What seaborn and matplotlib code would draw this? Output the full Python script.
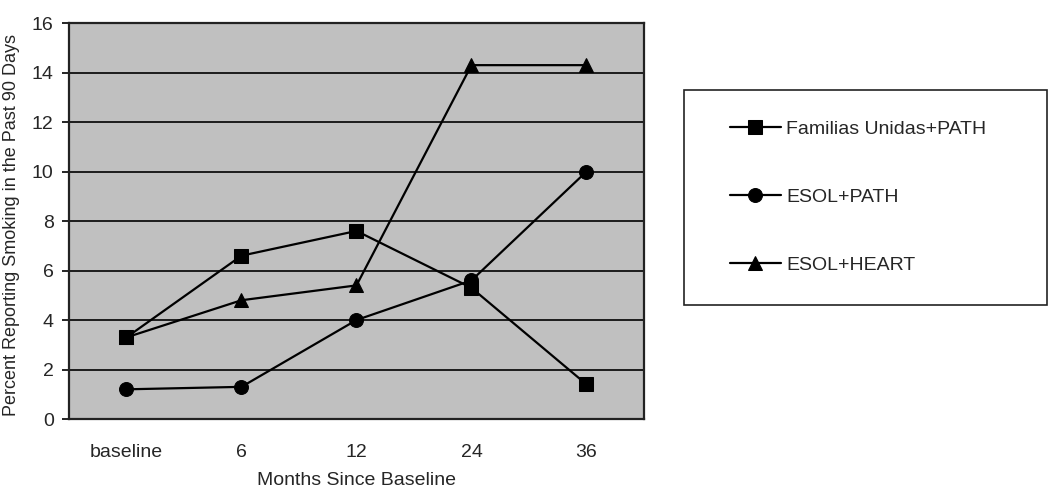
import matplotlib
matplotlib.use('Agg')
from matplotlib import pyplot as plt
from matplotlib.patches import Rectangle
import seaborn as sns
import pandas as pd

months = ['baseline', '6', '12', '24', '36']
familias_path = [3.3, 6.6, 7.6, 5.3, 1.4]
esol_path = [1.2, 1.3, 4.0, 5.6, 10.0]
esol_heart = [3.3, 4.8, 5.4, 14.3, 14.3]
groups = ['Familias Unidas+PATH', 'ESOL+PATH', 'ESOL+HEART']


def main():
    sns.set_style('white')
    plt.rcParams['font.family'] = ['Liberation Sans', 'DejaVu Sans']

    rows = []
    for g, vals in zip(groups, [familias_path, esol_path, esol_heart]):
        for i, v in enumerate(vals):
            rows.append({'pos': i, 'month': months[i], 'group': g, 'value': v})
    df = pd.DataFrame(rows)

    fig = plt.figure(figsize=(10.5, 4.91), dpi=100)
    ax = fig.add_axes([0.0657, 0.1466, 0.5476, 0.8064])
    ax.set_facecolor('#c0c0c0')

    sns.lineplot(data=df, x='pos', y='value', hue='group', style='group',
                 markers={'Familias Unidas+PATH': 's', 'ESOL+PATH': 'o', 'ESOL+HEART': '^'},
                 dashes=False, palette=['black'] * 3, hue_order=groups,
                 style_order=groups, linewidth=1.6, markersize=10,
                 markeredgecolor='black', ax=ax, zorder=3, legend=True)

    ax.set_xlim(-0.5, 4.5)
    ax.set_ylim(0, 16)
    ax.set_yticks(range(0, 17, 2))
    ax.set_xticks(range(len(months)))
    ax.set_xticklabels(months)
    ax.set_xticks([i - 0.5 for i in range(len(months) + 1)], minor=True)
    ax.tick_params(axis='x', which='major', length=0, labelsize=14, pad=18)
    ax.tick_params(axis='x', which='minor', length=6, width=1.2, direction='out', color='black')
    ax.tick_params(axis='y', length=5, width=1.2, direction='out', color='black', labelsize=14, left=True, pad=6)
    ax.yaxis.grid(True, color='black', linewidth=1.2)
    ax.set_axisbelow(True)
    for s in ax.spines.values():
        s.set_color('#222222')
        s.set_linewidth(1.6)

    ax.set_xlabel('Months Since Baseline', fontsize=14, labelpad=8)
    ax.set_ylabel('Percent Reporting Smoking in the Past 90 Days', fontsize=13)
    ax.yaxis.set_label_coords(-0.085, 0.49)

    handles, labels = ax.get_legend_handles_labels()
    ax.get_legend().remove()
    fig.patches.append(Rectangle((684 / 1050, 1 - 305 / 491), 363 / 1050, 215 / 491,
                                 transform=fig.transFigure, facecolor='white',
                                 edgecolor='#222222', linewidth=1.2, zorder=1))
    leg = fig.legend(handles, labels, loc='center left',
                     bbox_to_anchor=(730 / 1050, 1 - 197 / 491),
                     fontsize=14, labelspacing=2.6, borderpad=0, handlelength=2.6,
                     handletextpad=0.3, frameon=False, borderaxespad=0)
    leg.set_zorder(2)

    plt.savefig('out.png', dpi=100)


if __name__ == '__main__':
    main()
